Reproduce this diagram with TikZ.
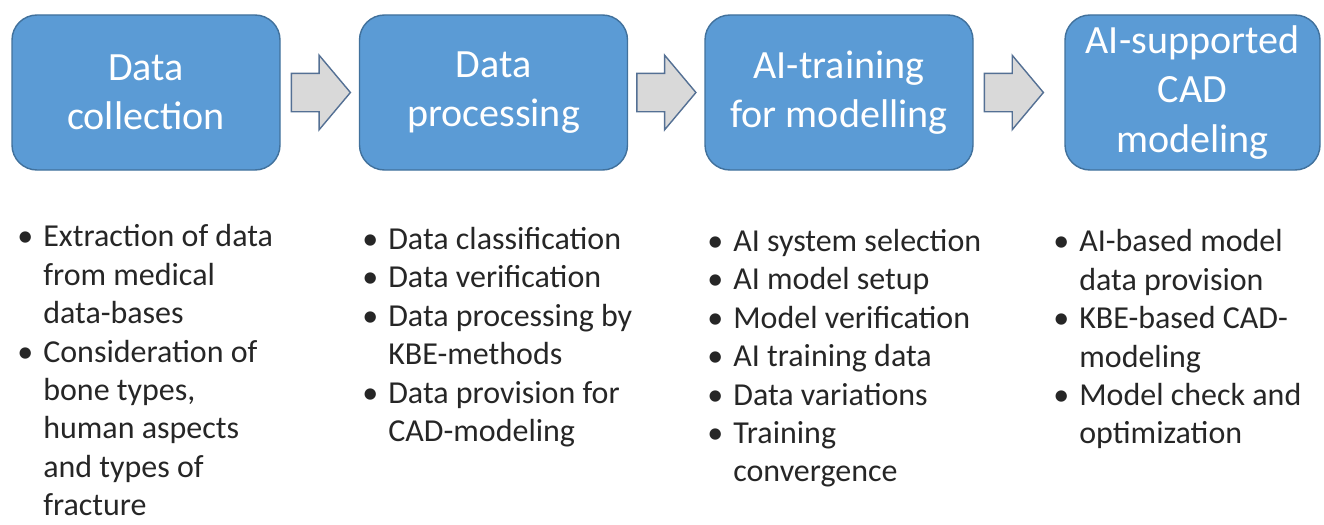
\documentclass[tikz,border=0pt]{standalone}
\usepackage{fontspec}
\setmainfont{Carlito}
\usetikzlibrary{shapes.arrows}
\usetikzlibrary{calc}
\definecolor{stage-fill}{RGB}{91,155,213}
\definecolor{stage-line}{RGB}{65,113,156}
\definecolor{flow-fill}{RGB}{217,217,217}
\definecolor{flow-line}{RGB}{84,112,148}
\definecolor{task-text}{RGB}{38,38,38}
\newcommand{\bul}{\makebox[0.52cm][l]{\textbullet}}
\newcommand{\ind}{\hspace*{0.52cm}}

\begin{document}
\begin{tikzpicture}[
    stage/.style={draw=stage-line, line width=0.8pt, fill=stage-fill, rounded corners=0.5cm, minimum width=5.36cm, minimum height=3.1cm, align=center, text=white, font=\fontsize{22.8pt}{28.2pt}\selectfont},
    flow/.style={single arrow, single arrow tip angle=100, single arrow head extend=0.36cm, draw=flow-line, line width=0.8pt, fill=flow-fill, minimum height=1.18cm, inner xsep=0pt, inner ysep=0.37cm, anchor=tail},
    tasks/.style={anchor=north west, inner sep=0pt, align=left, text=task-text, font=\fontsize{18.2pt}{21.9pt}\selectfont}]
    \useasboundingbox (0,0) rectangle (26.48,-10.48);

    \node[stage] (collect)  at (2.92, -1.85) {Data\\collection};
    \node[stage] (process)  at (9.87, -1.85) {Data\\processing};
    \node[stage] (train)    at (16.78,-1.85) {AI-training\\for modelling};
    \node[stage, minimum width=5.1cm] (cadmodel) at (23.85,-1.85) {AI-supported\\CAD\\modeling};

    \node[flow] (flow_1) at ($(collect.east)+(0.2,0)$) {};
    \node[flow] (flow_2) at ($(process.east)+(0.16,0)$) {};
    \node[flow] (flow_3) at ($(train.east)+(0.2,0)$) {};

    \node[tasks] (tasks_collect) at (0.34, -4.48) {\bul Extraction of data\\ \ind from medical\\ \ind data-bases\\ \bul Consideration of\\ \ind bone types,\\ \ind human aspects\\ \ind and types of\\ \ind fracture};
    \node[tasks] (tasks_process) at (7.24, -4.53) {\bul Data classification\\ \bul Data verification\\ \bul Data processing by\\ \ind KBE-methods\\ \bul Data provision for\\ \ind CAD-modeling};
    \node[tasks] (tasks_train)   at (14.14,-4.57) {\bul AI system selection\\ \bul AI model setup\\ \bul Model verification\\ \bul AI training data\\ \bul Data variations\\ \bul Training\\ \ind convergence};
    \node[tasks] (tasks_cad)     at (21.06,-4.58) {\bul AI-based model\\ \ind data provision\\ \bul KBE-based CAD-\\ \ind modeling\\ \bul Model check and\\ \ind optimization};
\end{tikzpicture}
\end{document}
